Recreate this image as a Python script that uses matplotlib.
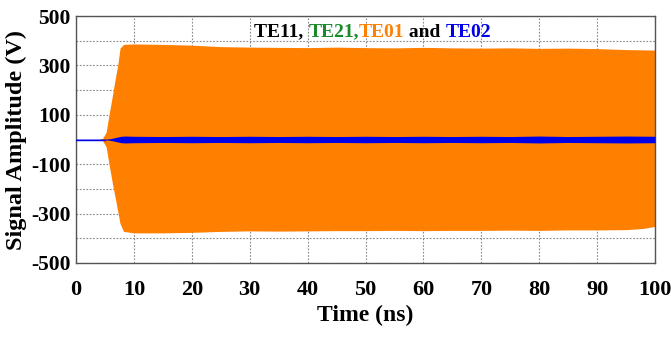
import matplotlib
matplotlib.use('Agg')
import matplotlib.pyplot as plt

# TE01 (orange) envelope
t_te01 = [4.0, 4.6, 5.2, 5.7, 6.3, 6.8, 7.2, 7.6, 8.2, 10, 15, 20, 25, 30, 35, 40, 45, 50,
          55, 60, 65, 70, 75, 80, 85, 90, 95, 98, 100]
te01_top = [0, 5, 30, 100, 180, 250, 300, 370, 385, 387, 385, 382, 376, 374, 373, 372, 374, 372,
            371, 373, 371, 370, 371, 369, 370, 368, 364, 363, 362]
te01_bot = [0, -5, -30, -100, -180, -240, -290, -340, -372, -378, -378, -376, -372, -370, -371, -370, -369, -369,
            -368, -369, -368, -368, -367, -368, -366, -366, -365, -360, -352]

# TE02 (blue) envelope
t_te02 = [0, 5.0, 5.8, 6.5, 7.0, 7.8, 8.5, 10, 15, 20, 25, 30, 35, 40, 45, 50, 55, 60,
          65, 70, 75, 80, 85, 90, 95, 100]
te02_top = [1.5, 1.5, 3, 6, 9, 13, 14, 13, 12, 13, 12, 13, 12, 13, 12, 13, 12, 13,
            12, 13, 12, 14, 12, 13, 14, 13]
te02_bot = [-1.5, -1.5, -3, -6, -9, -13, -14, -13, -12, -13, -12, -13, -12, -13, -12, -13, -12, -13,
            -12, -13, -12, -14, -12, -13, -14, -13]

orange = '#ff7f00'
blue = '#0000e6'
green = '#1a8a2a'

plt.rcParams['font.family'] = ['Liberation Serif', 'DejaVu Serif']
plt.rcParams['font.weight'] = 'bold'
plt.rcParams['axes.unicode_minus'] = False

fig = plt.figure(figsize=(6.71, 3.37), dpi=100)
ax = fig.add_axes([0.1133, 0.2196, 0.8629, 0.7329])

ax.fill_between(t_te01, te01_bot, te01_top, color=orange, lw=0, zorder=2)
ax.fill_between(t_te02, te02_bot, te02_top, color=blue, lw=0, zorder=3)
ax.plot([0, 5], [0, 0], color=blue, lw=1, zorder=3)

ax.set_xlim(0, 100)
ax.set_ylim(-500, 500)
ax.set_xticks(range(0, 101, 10))
ax.set_yticks([-500, -300, -100, 100, 300, 500])
ax.set_yticks([-400, -200, 0, 200, 400], minor=True)
ax.grid(True, which='both', linestyle=(0, (1.5, 1.5)), color='#888888', lw=0.8, zorder=1)
ax.tick_params(which='both', direction='in', length=0)
ax.tick_params(axis='y', labelsize=15.5, pad=4)
ax.tick_params(axis='x', labelsize=16, pad=12)
for s in ax.spines.values():
    s.set_color('#555555')
    s.set_linewidth(1)
for lab in ax.get_xticklabels() + ax.get_yticklabels():
    lab.set_fontweight('bold')

ax.set_xlabel('Time (ns)', fontsize=17, fontweight='bold', labelpad=4)
ax.set_ylabel('Signal Amplitude (V)', fontsize=17.5, fontweight='bold', labelpad=3)

# multicolour title inside the axes
parts = [('TE11, ', 'black'), ('TE21,', green), ('TE01', orange), (' and ', 'black'), ('TE02', blue)]
x0 = 0.308
renderer = fig.canvas.get_renderer()
for txt, col in parts:
    t = ax.text(x0, 0.935, txt, transform=ax.transAxes, color=col, fontsize=14,
                fontweight='bold', va='center', ha='left', zorder=5)
    bb = t.get_window_extent(renderer=renderer).transformed(ax.transAxes.inverted())
    x0 = bb.x1

fig.savefig('out.png', dpi=100)
